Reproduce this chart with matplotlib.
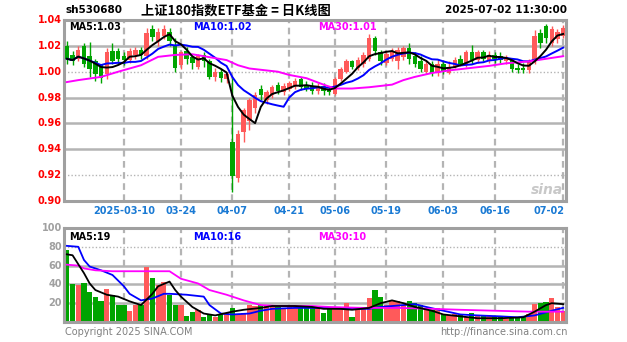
import matplotlib
matplotlib.use('Agg')
import matplotlib.pyplot as plt
import numpy as np
import pandas as pd

plt.rcParams['font.family'] = ['Noto Sans CJK SC', 'DejaVu Sans']

# ---------------- data ----------------
opens = [1.020, 1.013, 1.010, 1.020, 1.012, 1.008, 1.005, 0.998, 1.016, 1.016,
         1.012, 1.009, 1.013, 1.017, 1.012, 1.033, 1.024, 1.028, 1.031, 1.020,
         1.005, 1.016, 1.011, 1.004, 1.013, 1.008, 0.996, 1.000, 0.994, 0.946,
         0.918, 0.953, 0.962, 0.972, 0.987, 0.978, 0.982, 0.990, 0.984, 0.987,
         0.989, 0.994, 0.989, 0.989, 0.985, 0.989, 0.987, 0.983, 0.994, 1.000,
         1.008, 1.003, 1.006, 1.010, 1.026, 1.015, 1.007, 1.010, 1.008, 1.011,
         1.018, 1.012, 1.008, 1.000, 1.006, 0.999, 1.006, 0.999, 1.004, 1.010,
         1.006, 1.015, 1.009, 1.015, 1.009, 1.013, 1.012, 1.008, 1.009, 1.003,
         1.003, 1.001, 1.008, 1.030, 1.035, 1.022, 1.025, 1.028]
highs = [1.024, 1.016, 1.020, 1.022, 1.023, 1.010, 1.006, 1.018, 1.022, 1.018,
         1.015, 1.018, 1.019, 1.019, 1.034, 1.036, 1.034, 1.036, 1.034, 1.026,
         1.016, 1.019, 1.013, 1.014, 1.015, 1.010, 1.003, 1.002, 1.000, 0.995,
         0.955, 0.972, 0.980, 0.984, 0.990, 0.986, 0.990, 0.992, 0.991, 0.993,
         0.995, 0.996, 0.993, 0.992, 0.991, 0.991, 0.989, 0.996, 1.004, 1.010,
         1.009, 1.011, 1.015, 1.029, 1.028, 1.017, 1.016, 1.018, 1.019, 1.020,
         1.022, 1.015, 1.012, 1.009, 1.008, 1.010, 1.009, 1.008, 1.011, 1.013,
         1.017, 1.021, 1.017, 1.017, 1.016, 1.015, 1.015, 1.013, 1.010, 1.006,
         1.007, 1.010, 1.032, 1.033, 1.037, 1.035, 1.033, 1.036]
lows = [1.006, 1.005, 1.008, 1.004, 0.996, 0.993, 0.991, 0.994, 1.006, 1.006,
        1.005, 1.007, 1.010, 1.010, 1.010, 1.024, 1.020, 1.025, 1.020, 1.000,
        1.002, 1.006, 1.002, 1.002, 1.004, 0.994, 0.993, 0.992, 0.991, 0.907,
        0.915, 0.946, 0.955, 0.968, 0.978, 0.975, 0.980, 0.983, 0.982, 0.985,
        0.987, 0.986, 0.985, 0.983, 0.983, 0.982, 0.982, 0.982, 0.993, 0.999,
        1.002, 1.001, 1.004, 1.008, 1.013, 1.005, 1.005, 1.008, 1.002, 1.009,
        1.006, 1.004, 1.000, 0.998, 0.997, 0.997, 0.998, 0.998, 1.003, 1.005,
        1.004, 1.006, 1.007, 1.008, 1.007, 1.007, 1.007, 1.006, 1.000, 0.999,
        0.999, 0.999, 1.006, 1.018, 1.022, 1.020, 1.022, 1.026]
closes = [1.010, 1.008, 1.017, 1.006, 1.002, 0.998, 0.995, 1.015, 1.008, 1.010,
          1.009, 1.016, 1.017, 1.013, 1.030, 1.027, 1.031, 1.033, 1.024, 1.003,
          1.015, 1.010, 1.007, 1.012, 1.008, 0.996, 1.000, 0.995, 0.998, 0.919,
          0.952, 0.970, 0.978, 0.982, 0.982, 0.984, 0.988, 0.985, 0.989, 0.991,
          0.993, 0.988, 0.987, 0.985, 0.989, 0.985, 0.984, 0.994, 1.002, 1.008,
          1.004, 1.009, 1.013, 1.026, 1.016, 1.008, 1.014, 1.016, 1.017, 1.018,
          1.010, 1.006, 1.002, 1.006, 0.999, 1.006, 1.000, 1.004, 1.009, 1.006,
          1.015, 1.009, 1.015, 1.010, 1.013, 1.010, 1.009, 1.011, 1.002, 1.001,
          1.001, 1.008, 1.028, 1.022, 1.026, 1.033, 1.031, 1.034]
volumes = [77, 40, 39, 41, 32, 27, 22, 35, 29, 18,
           18, 12, 18, 18, 59, 47, 39, 43, 29, 18,
           18, 6, 11, 13, 5, 9, 5, 8, 10, 15,
           8, 10, 18, 17, 18, 17, 18, 16, 15, 16,
           15, 16, 16, 16, 15, 10, 15, 16, 16, 20,
           5, 16, 15, 26, 34, 27, 18, 22, 22, 18,
           22, 20, 18, 15, 13, 15, 9, 7, 8, 7,
           5, 10, 6, 7, 6, 6, 5, 3, 5, 4,
           5, 8, 19, 20, 21, 26, 16, 12]

# price MA30 (day index, value)
ma30_days = [0, 2, 6, 9, 13, 16, 19, 22, 24, 28, 30, 32, 35, 37, 39, 42, 45, 47,
             50, 53, 57, 59, 61, 64, 67, 70, 74, 77, 81, 84, 87]
ma30_vals = [0.992, 0.9935, 0.996, 1.000, 1.005, 1.0115, 1.013, 1.0135, 1.012,
             1.009, 1.005, 1.0025, 1.001, 1.000, 0.9975, 0.995, 0.990, 0.987,
             0.987, 0.988, 0.990, 0.9935, 0.996, 0.999, 1.001, 1.0025, 1.0045,
             1.0065, 1.008, 1.010, 1.012]

# volume moving averages
vma5_days = [0, 1, 3, 4, 5, 7, 9, 11, 13, 15, 16, 18, 19, 20, 22, 24, 26, 29, 31,
             34, 36, 40, 43, 45, 48, 50, 53, 55, 57, 59, 61, 64, 66, 69, 72, 76,
             80, 82, 84, 85, 87]
vma5_vals = [72, 71, 52, 41, 34, 29, 27, 22, 18, 30, 38, 43, 34, 27, 16, 9, 7, 11,
             13, 15, 17, 17, 16, 14, 14, 13, 15, 20, 23, 20, 16, 12, 8, 6, 4, 4,
             5, 11, 18, 20, 19]
vma10_days = [0, 2, 3, 4, 6, 8, 10, 11, 13, 15, 17, 18, 21, 24, 25, 27, 29, 32,
              34, 36, 40, 43, 46, 49, 53, 55, 57, 61, 63, 66, 69, 72, 76, 79, 82,
              85, 87]
vma10_vals = [81, 80, 66, 59, 55, 50, 38, 30, 23, 25, 30, 30, 29, 27, 18, 9, 8, 9,
              12, 14, 15, 15, 15, 14, 14, 16, 17, 19, 16, 12, 8, 7, 6, 5, 7, 12,
              15]
vma30_days = [0, 2, 3, 5, 8, 11, 14, 17, 18, 20, 23, 25, 28, 31, 34, 37, 43, 46,
              52, 58, 64, 69, 75, 81, 87]
vma30_vals = [61, 60, 57, 55, 54, 54, 54, 54, 54, 46, 41, 34, 29, 23, 18, 17, 17,
              16, 15, 15, 14, 13, 12, 11, 11]

tick_days = [10, 20, 29, 39, 47, 56, 66, 75, 87]
tick_labels = ['2025-03-10', '03-24', '04-07', '04-21', '05-06', '05-19',
               '06-03', '06-16', '07-02']
price_ticks = [1.04, 1.02, 1.00, 0.98, 0.96, 0.94, 0.92, 0.90]
vol_ticks = [100, 80, 60, 40, 20]

# ---------------- figure ----------------
W, H = 627, 342
fig = plt.figure(figsize=(W / 100, H / 100), dpi=100)
fig.patch.set_facecolor('white')

def fx(px):
    return px / W

def fy(py):
    return 1 - py / H

L, R = 64, 566
ax = fig.add_axes([fx(L), fy(201), fx(R - L), (201 - 20) / H])
axv = fig.add_axes([fx(L), fy(322), fx(R - L), (322 - 228) / H])

RED = '#ff5a5a'
GREEN = '#00a400'
GRID = '#b4b4b4'

n = len(closes)
x = np.arange(n)
o = np.array(opens); c = np.array(closes); h = np.array(highs); lo = np.array(lows)
up = c >= o
cols = np.where(up, RED, GREEN)

for a in (ax, axv):
    a.set_xlim(-0.5, n - 0.5)
    a.set_xticks([])
    a.set_yticks([])
    for s in a.spines.values():
        s.set_color('#a0a0a0')
        s.set_linewidth(2.2)
    for d in tick_days:
        a.axvline(d, color=GRID, lw=1.6, ls=(0, (3, 2)), zorder=0)

ax.set_ylim(0.90, 1.04)
axv.set_ylim(0, 100)

# price grid
for p in price_ticks[1:-1]:
    if abs(p - 1.00) < 1e-9 or abs(p - 0.92) < 1e-9:
        ax.axhline(p, color=GRID, lw=1.0, ls=(0, (1, 1.5)), zorder=0)
    else:
        ax.axhline(p, color=GRID, lw=1.8, zorder=0)
for v in vol_ticks[1:]:
    if v == 80:
        axv.axhline(v, color=GRID, lw=1.0, ls=(0, (1, 1.5)), zorder=0)
    else:
        axv.axhline(v, color=GRID, lw=1.8, zorder=0)

# candles
ax.vlines(x, lo, h, colors=cols, lw=1.0, zorder=2)
body_bottom = np.minimum(o, c)
body_h = np.maximum(np.abs(c - o), 0.0006)
ax.bar(x, body_h, bottom=body_bottom, width=0.78, color=cols, zorder=3,
       linewidth=0)

# price MAs
ma5 = pd.Series(closes).rolling(5, min_periods=1).mean()
ma10 = pd.Series(closes).rolling(10, min_periods=1).mean()
ax.plot(x, ma5, color='black', lw=1.4, zorder=5)
ax.plot(x, ma10, color='#0000ff', lw=1.4, zorder=4)
ax.plot(ma30_days, ma30_vals, color='#ff00ff', lw=1.4, zorder=4)

# volume
axv.bar(x, volumes, width=0.92, color=cols, linewidth=0, zorder=2)
axv.plot(vma5_days, vma5_vals, color='black', lw=1.3, zorder=5)
axv.plot(vma10_days, vma10_vals, color='#0000ff', lw=1.3, zorder=4)
axv.plot(vma30_days, vma30_vals, color='#ff00ff', lw=1.3, zorder=4)

# ---------------- texts ----------------
num_font = dict(family='DejaVu Sans', fontweight='bold')
for p in price_ticks:
    py = 20 + (1.04 - p) / 0.14 * 181
    fig.text(fx(62), fy(py), f'{p:.2f}', color='#ff0000', fontsize=7,
             ha='right', va='center', **num_font)
for v in vol_ticks:
    py = 322 - v / 100 * 94
    fig.text(fx(62), fy(py), str(v), color='#a0a0a0', fontsize=7,
             ha='right', va='center', **num_font)

for d, lab in zip(tick_days, tick_labels):
    px = L + (d + 0.5) * (R - L) / n
    ha = 'center'
    if d == tick_days[-1]:
        ha = 'right'
        px = px + 1
    fig.text(fx(px), fy(211), lab, color='#1a7ad4', fontsize=7, ha=ha,
             va='center', **num_font)

fig.text(fx(66), fy(10), 'sh530680', color='black', fontsize=7.5,
         ha='left', va='center', **num_font)
fig.text(fx(236), fy(11), '上证180指数ETF基金 = 日K线图', color='black',
         fontsize=9.5, ha='center', va='center', fontweight='bold')
fig.text(fx(567), fy(10), '2025-07-02 11:30:00', color='black', fontsize=7.5,
         ha='right', va='center', **num_font)

fig.text(fx(69), fy(27), 'MA5:1.03', color='black', fontsize=7, ha='left',
         va='center', **num_font)
fig.text(fx(193), fy(27), 'MA10:1.02', color='#0000ff', fontsize=7, ha='left',
         va='center', **num_font)
fig.text(fx(318), fy(27), 'MA30:1.01', color='#ff00ff', fontsize=7, ha='left',
         va='center', **num_font)
fig.text(fx(69), fy(237), 'MA5:19', color='black', fontsize=7, ha='left',
         va='center', **num_font)
fig.text(fx(193), fy(237), 'MA10:16', color='#0000ff', fontsize=7, ha='left',
         va='center', **num_font)
fig.text(fx(318), fy(237), 'MA30:10', color='#ff00ff', fontsize=7, ha='left',
         va='center', **num_font)

fig.text(fx(65), fy(332), 'Copyright 2025 SINA.COM', color='#808080',
         fontsize=7, ha='left', va='center', family='DejaVu Sans')
fig.text(fx(568), fy(332), 'http://finance.sina.com.cn', color='#808080',
         fontsize=7, ha='right', va='center', family='DejaVu Sans')
fig.text(fx(563), fy(190), 'sina', color='#c8c8c8', fontsize=10,
         ha='right', va='center', family='DejaVu Sans', fontweight='bold',
         style='italic')

fig.savefig('out.png', dpi=100, facecolor='white')
